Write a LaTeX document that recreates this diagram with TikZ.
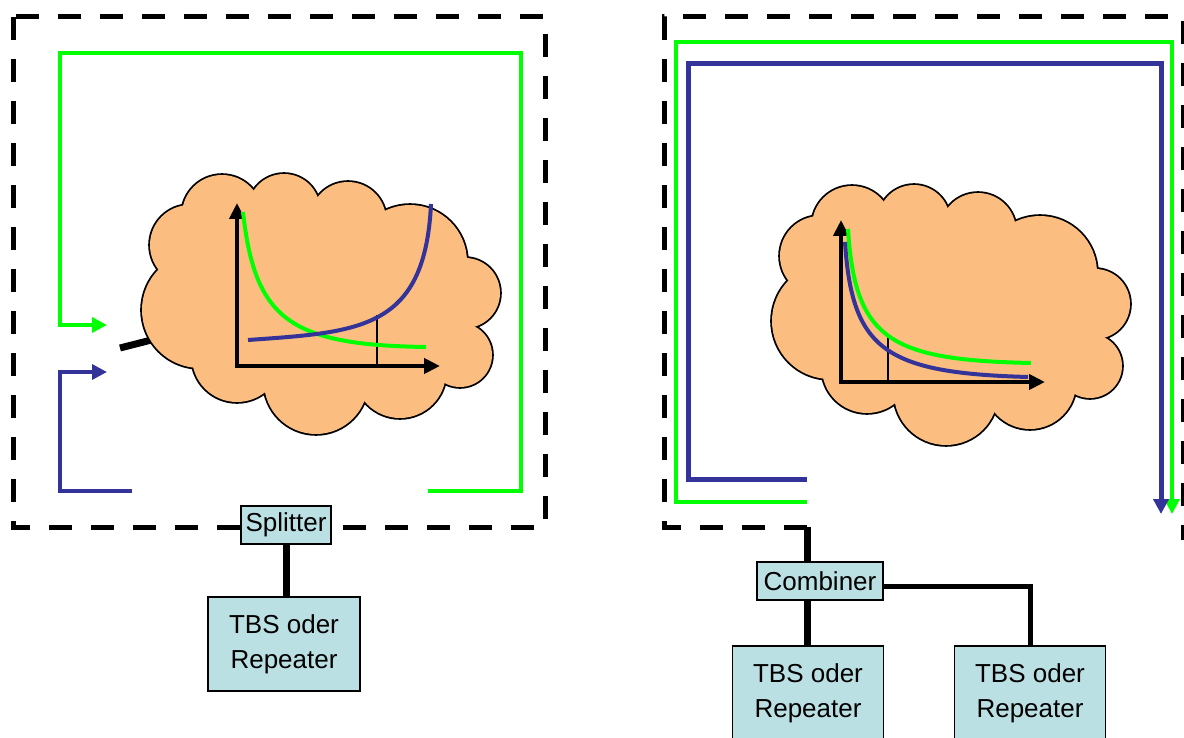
\documentclass[tikz,border=0pt]{standalone}
\usepackage{fontspec}
\setmainfont{Liberation Sans}
\usetikzlibrary{arrows.meta,positioning}
\definecolor{sigblue}{RGB}{51,51,153}
\definecolor{siggreen}{RGB}{0,255,0}
\definecolor{cloudtan}{RGB}{252,190,128}
\definecolor{boxcyan}{RGB}{187,224,227}
% lobes of the cloud: dx/dy/radius
\def\cloudlobes{-98/-87/40, -36/-92/36, 28/-82/38, 90/-40/57, 145/-9/35, 140/53/32,
  80/70/46, -4/80/52, -83/55/45, -120/8/58, -130/-57/40}
\tikzset{
  border/.style={line width=5pt, dash pattern=on 23pt off 19pt},
  feed/.style={line width=7pt},
  devbox/.style={draw, fill=boxcyan, line width=1.2pt, inner sep=0pt, align=center,
    font=\fontsize{26}{35}\selectfont},
  tip/.style={-{Triangle[length=15pt,width=15pt]}},
  axes/.style={line width=4pt, {Triangle[length=16pt,width=15pt]}-{Triangle[length=16pt,width=15pt]}},
  puffcloud/.pic={
    \foreach \dx/\dy/\r in \cloudlobes
      \draw[line width=3.6pt] (\dx,\dy) circle (\r pt);
    \fill[cloudtan] (0,0) ellipse (140pt and 90pt);
    \foreach \dx/\dy/\r in \cloudlobes
      \fill[cloudtan] (\dx,\dy) circle (\r pt);
  }
}
\begin{document}
\begin{tikzpicture}[x=1pt,y=-1pt]
    \useasboundingbox (0,0) rectangle (1184,738);
    % left: splitter
    \draw[border] (13,17) rectangle (545,527);
    \draw[siggreen, line width=3.5pt, tip] (428,491) -- (521,491) -- (521,53) -- (60,53) -- (60,325) -- (107,325);
    \draw[sigblue, line width=3.5pt, tip] (132,491) -- (60,491) -- (60,372) -- (107,372);
    \coordinate (inL) at (120,348);
    \draw[feed] (inL) -- (175,334);
    \pic at (320,302) {puffcloud};
    \draw[axes] (237,203) -- (237,366) -- (440,366);
    \draw[line width=1.5pt] (377,315) -- (377,366);
    \draw[siggreen, line width=4pt] (243,212) .. controls (255,320) and (290,345) .. (426,347);
    \draw[sigblue, line width=4pt] (248,340) .. controls (360,332) and (425,330) .. (431,204);
    \node[devbox, minimum width=90pt, minimum height=38pt] (split) at (286,525) {Splitter};
    \node[devbox, minimum width=152pt, minimum height=94pt] (tbsA) at (284,644) {TBS oder\\Repeater};
    \draw[feed] (split.south) -- (split.south |- tbsA.north);

    % right: combiner
    \coordinate (feedR) at (807,527);
    \draw[border] (feedR) -- (664,527) -- (664,17) -- (1183,17) -- (1183,540);
    \draw[siggreen, line width=3.5pt, tip] (807,502) -- (676,502) -- (676,42) -- (1172,42) -- (1172,514);
    \draw[sigblue, line width=5pt, tip] (807,479) -- (688,479) -- (688,64) -- (1161,64) -- (1161,514);
    \pic at (950,313) {puffcloud};
    \draw[axes] (841,220) -- (841,382) -- (1045,382);
    \draw[line width=1.5pt] (888,337) -- (888,382);
    \draw[siggreen, line width=4pt] (848,229) .. controls (855,340) and (890,360) .. (1031,363);
    \draw[sigblue, line width=4pt] (845,242) .. controls (852,350) and (885,373) .. (1028,377);
    \node[devbox, minimum width=126pt, minimum height=38pt] (comb) at (820,581) {Combiner};
    \node[devbox, minimum width=151pt, minimum height=94pt] (tbsB) at (808,693) {TBS oder\\Repeater};
    \node[devbox, minimum width=151pt, minimum height=94pt] (tbsC) at (1030,693) {TBS oder\\Repeater};
    \draw[feed] (feedR) -- (feedR |- comb.north);
    \draw[feed] (feedR |- comb.south) -- (feedR |- tbsB.north);
    \draw[line width=5pt] ([yshift=-5pt]comb.east) -| (tbsC.north);
\end{tikzpicture}
\end{document}
